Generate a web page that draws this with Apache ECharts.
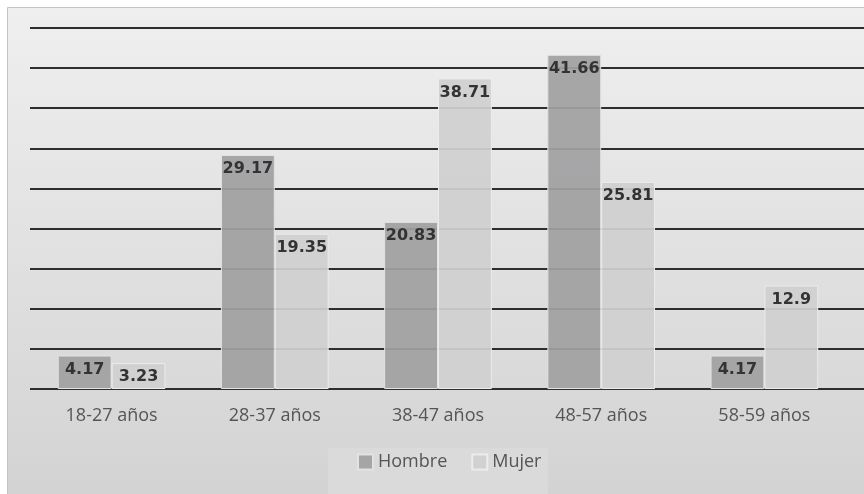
<!DOCTYPE html>
<html>
<head>
<meta charset="utf-8">
<style>
  html, body { margin: 0; padding: 0; background: #ffffff; }
  #chart { width: 864px; height: 494px; }
</style>
<script src="https://cdn.jsdelivr.net/npm/echarts@6/dist/echarts.min.js"></script>
</head>
<body>
<div id="chart"></div>
<script>
// Age groups and percentage by sex
const categories = ['18-27 años', '28-37 años', '38-47 años', '48-57 años', '58-59 años'];
const hombre = [4.17, 29.17, 20.83, 41.66, 4.17];
const mujer = [3.23, 19.35, 38.71, 25.81, 12.9];
const seriesNames = ['Hombre', 'Mujer'];

const axisMax = 45;
const axisStep = 5;

const chart = echarts.init(document.getElementById('chart'));

const valueLabel = {
  show: true,
  position: 'insideTop',
  distance: 6,
  fontFamily: 'DejaVu Sans',
  fontWeight: 'bold',
  fontSize: 16,
  color: '#333333'
};

chart.setOption({
  backgroundColor: '#ffffff',
  animation: false,
  graphic: [
    {
      type: 'rect',
      z: -100,
      shape: { x: 7.5, y: 7.5, width: 870, height: 500 },
      style: {
        fill: new echarts.graphic.LinearGradient(0, 0, 0, 1, [
          { offset: 0, color: '#efeff0' },
          { offset: 1, color: '#d2d2d2' }
        ]),
        stroke: '#c4c4c4',
        lineWidth: 1
      }
    },
    {
      type: 'rect',
      z: -50,
      shape: { x: 328, y: 448, width: 220, height: 50 },
      style: { fill: '#dadada' }
    }
  ],
  legend: {
    data: seriesNames,
    bottom: 18,
    left: 352,
    itemWidth: 15,
    itemHeight: 15,
    itemGap: 24,
    icon: 'rect',
    textStyle: { fontFamily: 'Open Sans', fontSize: 18, color: '#555555' }
  },
  grid: [
    { left: 30, right: 18, top: 28, bottom: 105, containLabel: false },
    { left: 30, right: 0, top: 28, bottom: 105, containLabel: false }
  ],
  xAxis: [
    {
      type: 'category',
      gridIndex: 0,
      data: categories,
      axisLine: { show: false },
      axisTick: { show: false },
      axisLabel: {
        margin: 18,
        fontFamily: 'Open Sans',
        fontSize: 18,
        color: '#555555'
      }
    },
    {
      type: 'category',
      gridIndex: 1,
      data: categories,
      show: false
    }
  ],
  yAxis: [
    {
      type: 'value',
      gridIndex: 0,
      min: 0,
      max: axisMax,
      interval: axisStep,
      axisLabel: { show: false },
      axisLine: { show: false },
      axisTick: { show: false },
      splitLine: { show: false }
    },
    {
      type: 'value',
      gridIndex: 1,
      min: 0,
      max: axisMax,
      interval: axisStep,
      axisLabel: { show: false },
      axisLine: { show: false },
      axisTick: { show: false },
      splitLine: { show: true, lineStyle: { color: '#2e2e2e', width: 2 } }
    }
  ],
  series: [
    {
      name: seriesNames[0],
      type: 'bar',
      xAxisIndex: 0,
      yAxisIndex: 0,
      data: hombre,
      barGap: '0%',
      barCategoryGap: '34%',
      itemStyle: { color: 'rgba(160,160,161,0.93)', borderColor: '#e2e2e2', borderWidth: 1 },
      label: valueLabel
    },
    {
      name: seriesNames[1],
      type: 'bar',
      xAxisIndex: 0,
      yAxisIndex: 0,
      data: mujer,
      itemStyle: { color: 'rgba(208,208,208,0.93)', borderColor: '#ececec', borderWidth: 1 },
      label: valueLabel
    }
  ]
});
</script>
</body>
</html>
